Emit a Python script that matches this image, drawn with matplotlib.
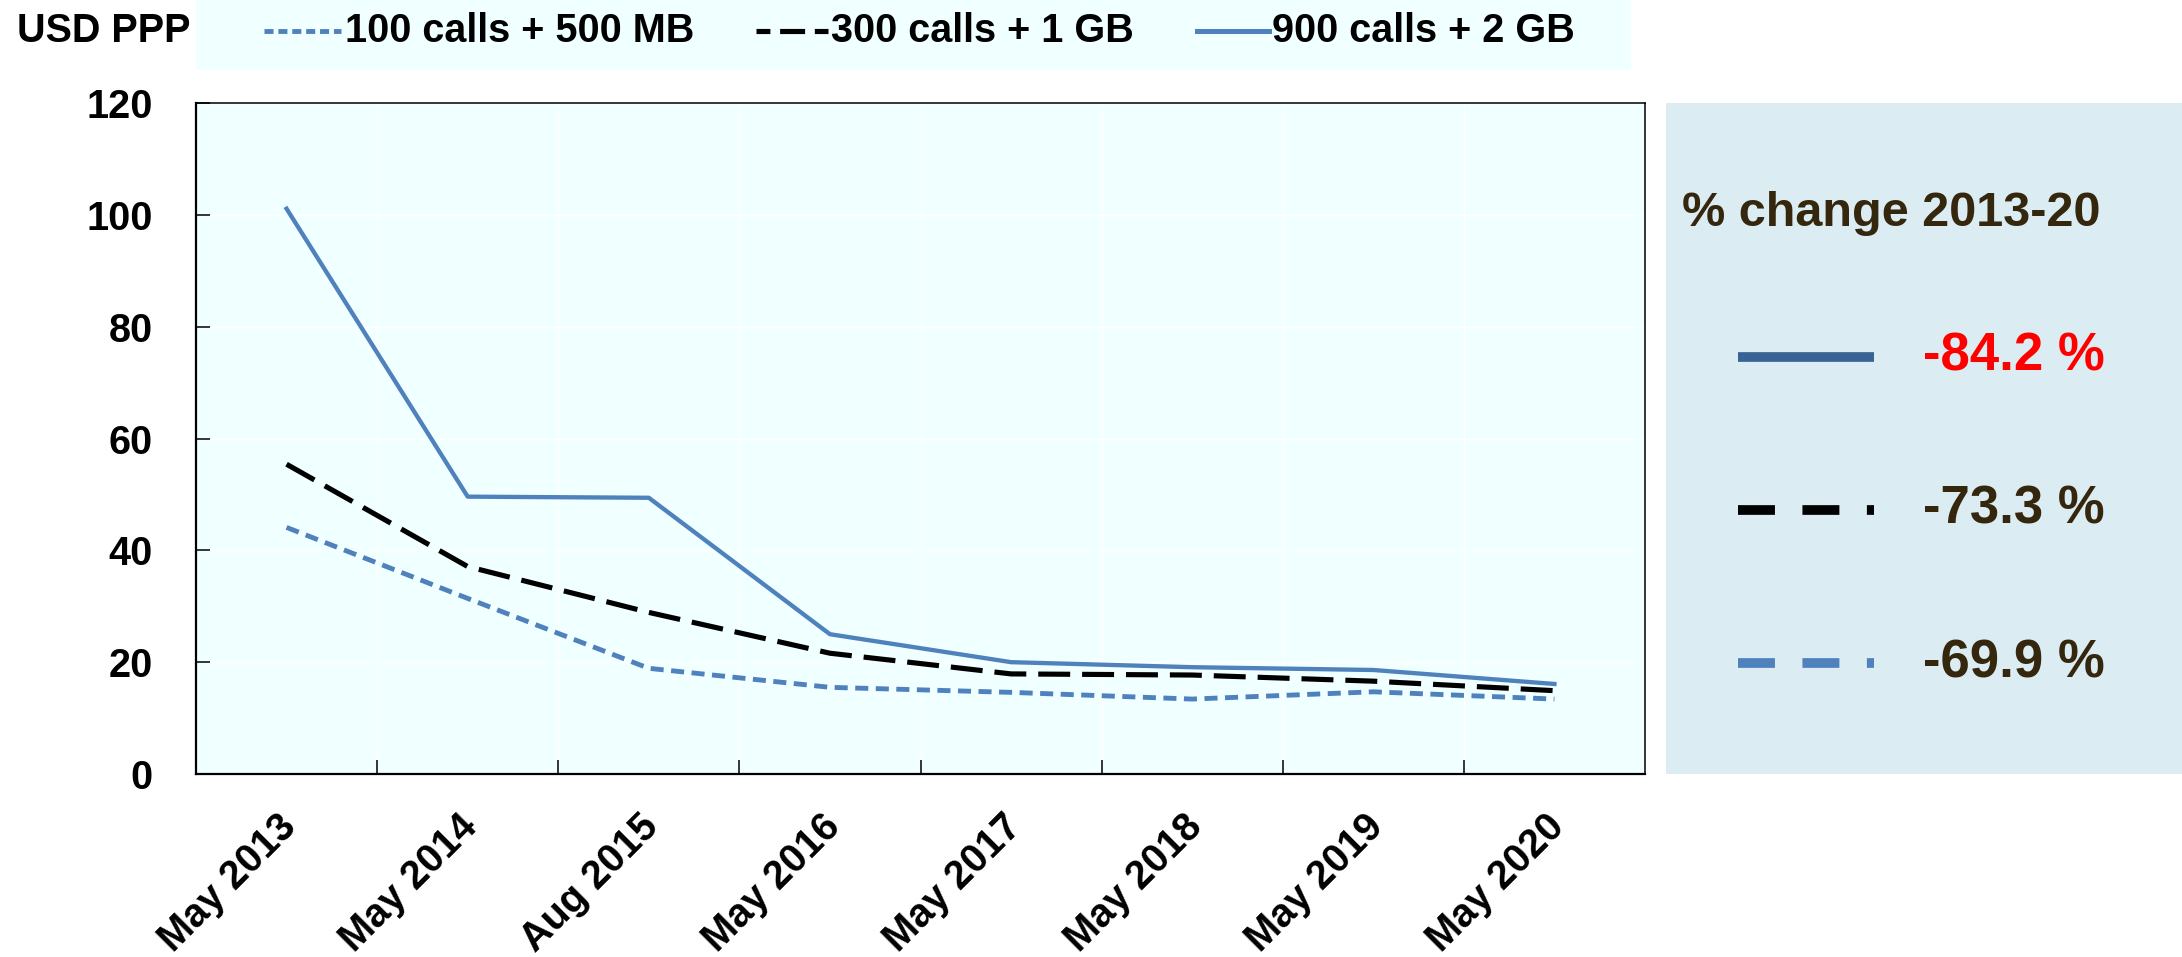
import matplotlib
matplotlib.use("Agg")
import matplotlib.pyplot as plt
from matplotlib.lines import Line2D
from matplotlib.patches import Rectangle
from matplotlib.transforms import ScaledTranslation
import numpy as np

# ---------------- data ----------------
categories = ["May 2013", "May 2014", "Aug 2015", "May 2016",
              "May 2017", "May 2018", "May 2019", "May 2020"]
series_names = ["100 calls + 500 MB", "300 calls + 1 GB", "900 calls + 2 GB"]
calls_100 = [44.1, 31.4, 18.9, 15.5, 14.6, 13.4, 14.7, 13.4]
calls_300 = [55.4, 37.1, 28.9, 21.6, 17.9, 17.7, 16.6, 14.9]
calls_900 = [101.1, 49.6, 49.4, 25.0, 20.0, 19.1, 18.6, 16.1]
y_ticks = [0, 20, 40, 60, 80, 100, 120]
pct_title = "% change 2013-20"
pct_labels = ["-84.2 %", "-73.3 %", "-69.9 %"]   # 900, 300, 100

# ---------------- style ----------------
plt.rcParams['font.family'] = ['Liberation Sans', 'DejaVu Sans']
plt.rcParams['font.weight'] = 'bold'
plt.rcParams['lines.scale_dashes'] = False

W, H, DPI = 2182, 957, 100
fig = plt.figure(figsize=(W / DPI, H / DPI), dpi=DPI)
fig.patch.set_facecolor('white')

def fx(px):
    return px / W

def fy(py):
    return 1 - py / H

BLUE = '#4F81BD'
DARK_BLUE = '#3A6395'
BROWN = '#35260E'
FS = 28.5

# ---------------- main axes ----------------
L, R, T, B = 196, 1645, 103, 774
ax = fig.add_axes([fx(L), fy(B), fx(R - L), (B - T) / H])
ax.set_facecolor('#F0FFFF')
x = np.arange(len(categories))

ax.plot(x, calls_900, color=BLUE, lw=3.1, zorder=3)
ax.plot(x, calls_300, color='black', lw=3.7, dashes=(23, 8.6), zorder=3)
ax.plot(x, calls_100, color=BLUE, lw=3.5, dashes=(9.4, 5.4), zorder=3)

ax.set_xlim(-0.5, len(categories) - 0.5)
ax.set_ylim(0, 120)
ax.set_yticks(y_ticks)
ax.set_yticklabels([str(v) for v in y_ticks], fontsize=FS, fontweight='bold')
ax.set_xticks(x)
ax.set_xticklabels(categories, rotation=45, ha='right', va='center',
                   rotation_mode='anchor', fontsize=FS, fontweight='bold')
ax.set_xticks(np.arange(0.5, len(categories) - 0.5, 1), minor=True)
ax.tick_params(axis='x', which='major', length=0, pad=33.5)
ax.tick_params(axis='x', which='minor', direction='in', length=10, width=1.1)
ax.tick_params(axis='y', direction='in', length=10, width=1.1, pad=31)
offset = ScaledTranslation(4 / DPI, 0, fig.dpi_scale_trans)
for lbl in ax.get_xticklabels():
    lbl.set_transform(lbl.get_transform() + offset)

ax.set_axisbelow(True)
ax.grid(axis='y', color='white', lw=1.0)
ax.grid(axis='x', which='minor', color='white', lw=1.0)
for s in ['left', 'bottom']:
    ax.spines[s].set_linewidth(1.6)
for s in ['top', 'right']:
    ax.spines[s].set_linewidth(1.1)

# ---------------- top legend ----------------
fig.patches.append(Rectangle((fx(196), fy(70)), fx(1631 - 196), 70 / H,
                             transform=fig.transFigure, facecolor='#F0FFFF',
                             edgecolor='none', zorder=0))
fig.text(fx(17), fy(31), "USD PPP", ha='left', va='center',
         fontsize=FS, fontweight='bold', color='black')

leg_styles = [
    dict(color=BLUE, lw=3.5, linestyle=(0, (6.5, 3.5))),
    dict(color='black', lw=3.7, linestyle=(0, (10, 7, 18, 7))),
    dict(color=BLUE, lw=3.6),
]
leg_pos = [(264, 341, 345), (756, 828, 831), (1197, 1269, 1272)]
for name, st, (x0, x1, tx) in zip(series_names, leg_styles, leg_pos):
    ln = Line2D([fx(x0), fx(x1)], [fy(31), fy(31)], transform=fig.transFigure, **st)
    fig.add_artist(ln)
    fig.text(fx(tx), fy(31), name, ha='left', va='center',
             fontsize=FS, fontweight='bold', color='black')

# ---------------- right panel ----------------
ax2 = fig.add_axes([fx(1666), fy(774), fx(2182 - 1666), (774 - 103) / H])
ax2.set_facecolor('#DBEDF3')
for s in ax2.spines.values():
    s.set_visible(False)
ax2.set_xticks([])
ax2.set_yticks([])
ax2.set_xlim(0, 1)
ax2.set_ylim(0, 1)

ax2.text(0.031, 0.836, pct_title, ha='left', va='center', fontsize=35,
         fontweight='bold', color=BROWN)
panel_styles = [
    dict(color=DARK_BLUE, lw=7),
    dict(color='black', lw=7, linestyle=(0, (26.6, 19.8))),
    dict(color=BLUE, lw=7, linestyle=(0, (26.6, 19.8))),
]
panel_colors = ['#FF0000', BROWN, BROWN]
panel_y = [0.622, 0.394, 0.165]
for lab, st, col, yy in zip(pct_labels, panel_styles, panel_colors, panel_y):
    ax2.plot([0.140, 0.403], [yy, yy], solid_capstyle='butt',
             dash_capstyle='butt', **st)
    ax2.text(0.498, yy, lab, ha='left', va='center', fontsize=38,
             fontweight='bold', color=col)

fig.savefig("out.png", dpi=DPI)
